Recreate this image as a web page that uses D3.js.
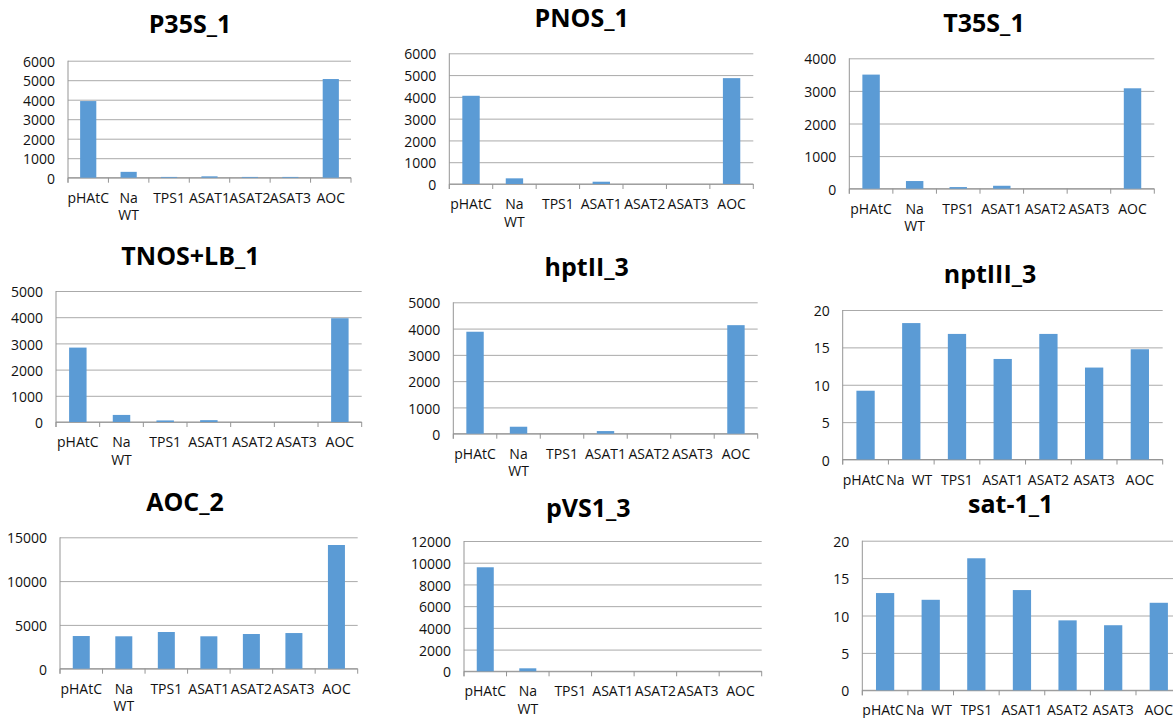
<!DOCTYPE html>
<html>
<head>
<meta charset="utf-8">
<script src="https://cdn.jsdelivr.net/npm/d3@7"></script>
<style>
  html, body { margin: 0; padding: 0; background: #fff; }
  svg { display: block; }
  text { font-family: "Open Sans", "Liberation Sans", sans-serif; }
</style>
</head>
<body>
<svg id="chart" width="1173" height="718"></svg>
<script>
// ---- data ----
const categories = ["pHAtC", "Na WT", "TPS1", "ASAT1", "ASAT2", "ASAT3", "AOC"];
const titles = ["P35S_1", "PNOS_1", "T35S_1", "TNOS+LB_1", "hptII_3", "nptIII_3", "AOC_2", "pVS1_3", "sat-1_1"];
const p35s   = [3930, 300, 40, 70, 40, 40, 5060];
const pnos   = [4050, 260, 0, 105, 0, 0, 4860];
const t35s   = [3500, 235, 50, 90, 0, 0, 3080];
const tnosLb = [2840, 270, 60, 70, 0, 0, 3960];
const hptII  = [3880, 265, 0, 100, 0, 0, 4130];
const nptIII = [9.2, 18.25, 16.8, 13.45, 16.8, 12.3, 14.75];
const aoc2   = [3730, 3700, 4190, 3700, 3960, 4070, 14120];
const pVS1   = [9580, 275, 0, 0, 0, 0, 0];
const sat1   = [13.0, 12.1, 17.65, 13.4, 9.35, 8.7, 11.7];
const seriesList = [p35s, pnos, t35s, tnosLb, hptII, nptIII, aoc2, pVS1, sat1];
const yMaxes  = [6000, 6000, 4000, 5000, 5000, 20, 15000, 12000, 20];
const ySteps  = [1000, 1000, 1000, 1000, 1000, 5, 5000, 2000, 5];

// ---- layout (pixel boxes of each small chart) ----
const layout = [
  {x0: 68,    x1: 351,    yTop: 60.7,  y0: 177.7, tx: 190,   ty: 33.3,  single: false},
  {x0: 449.3, x1: 753.3,  yTop: 53.3,  y0: 184,   tx: 581.7, ty: 27,    single: false},
  {x0: 849.3, x1: 1154.3, yTop: 58.3,  y0: 188.7, tx: 984,   ty: 32.3,  single: false},
  {x0: 56,    x1: 361.7,  yTop: 291,   y0: 422,   tx: 190.5, ty: 265,   single: false},
  {x0: 453.3, x1: 757.7,  yTop: 302.3, y0: 433.7, tx: 586.7, ty: 275.7, single: false},
  {x0: 842.7, x1: 1162.7, yTop: 310,   y0: 459.5, tx: 990,   ty: 283.3, single: true},
  {x0: 60,    x1: 357.7,  yTop: 537.3, y0: 668.7, tx: 185,   ty: 510.7, single: false},
  {x0: 464,   x1: 761.7,  yTop: 541,   y0: 671.3, tx: 588.3, ty: 516.7, single: false},
  {x0: 862.3, x1: 1181.6, yTop: 540.7, y0: 690.3, tx: 1010.7,ty: 513.3, single: true}
];

const BAR = "#5B9BD5";
const GRID = "#aaaaaa";
const AXIS = "#959595";
const TXT = "#111111";
const FS = 14;

const svg = d3.select("#chart");

seriesList.forEach((vals, i) => {
  const L = layout[i];
  const g = svg.append("g");
  const x = d3.scaleBand().domain(categories).range([L.x0, L.x1]).padding(0);
  const y = d3.scaleLinear().domain([0, yMaxes[i]]).range([L.y0, L.yTop]);
  const ticks = d3.range(0, yMaxes[i] + ySteps[i] / 2, ySteps[i]);

  // gridlines + y labels via axis
  const yAxis = d3.axisLeft(y)
    .tickValues(ticks)
    .tickSize(-(L.x1 - L.x0))
    .tickPadding(13)
    .tickFormat(d3.format("d"));
  const ya = g.append("g")
    .attr("transform", `translate(${L.x0},0)`)
    .call(yAxis);
  ya.select(".domain").remove();
  ya.selectAll(".tick line").attr("stroke", GRID).attr("stroke-width", 1);
  ya.selectAll(".tick text")
    .attr("fill", TXT)
    .style("font-size", FS + "px")
    .attr("dy", "0.4em");

  // y axis vertical line (extends down like a tick)
  g.append("line")
    .attr("x1", L.x0).attr("x2", L.x0)
    .attr("y1", y(yMaxes[i])).attr("y2", y(0) + 5)
    .attr("stroke", AXIS);
  // x axis baseline
  g.append("line")
    .attr("x1", L.x0).attr("x2", L.x1)
    .attr("y1", y(0)).attr("y2", y(0))
    .attr("stroke", AXIS);
  // category boundary tick marks
  const bounds = categories.map(c => x(c)).concat([L.x1]);
  g.selectAll(".xtick").data(bounds).enter().append("line")
    .attr("x1", d => d).attr("x2", d => d)
    .attr("y1", y(0)).attr("y2", y(0) + 5)
    .attr("stroke", AXIS);

  // bars
  const bw = x.bandwidth();
  g.selectAll(".bar").data(vals).enter().append("rect")
    .attr("x", (d, k) => x(categories[k]) + bw * 0.3)
    .attr("width", bw * 0.4)
    .attr("y", d => y(d))
    .attr("height", d => y(0) - y(d))
    .attr("fill", BAR);

  // x labels
  const labelY = y(0) + 25;
  if (!L.single) {
    categories.forEach(c => {
      const t = g.append("text")
        .attr("x", x(c) + bw / 2)
        .attr("y", labelY)
        .attr("text-anchor", "middle")
        .attr("fill", TXT)
        .style("font-size", FS + "px");
      const parts = c.split(" ");
      parts.forEach((p, k) => {
        t.append("tspan")
          .attr("x", x(c) + bw / 2)
          .attr("dy", k === 0 ? 0 : 17.7)
          .text(p);
      });
    });
  } else {
    let prevEnd = null;
    categories.forEach((c, k) => {
      const parts = c.split(" ");
      if (parts.length > 1 && prevEnd !== null) {
        const t = g.append("text")
          .attr("x", prevEnd + 2)
          .attr("y", labelY)
          .attr("text-anchor", "start")
          .attr("fill", TXT)
          .style("font-size", FS + "px");
        t.append("tspan").text(parts[0]);
        t.append("tspan").attr("dx", 7).text(parts.slice(1).join(" "));
      } else {
        const cx = x(c) + bw / 2 - (k === 0 ? 2 : 0);
        const t = g.append("text")
          .attr("x", cx)
          .attr("y", labelY)
          .attr("text-anchor", "middle")
          .attr("fill", TXT)
          .style("font-size", FS + "px")
          .text(c);
        const len = t.node().getComputedTextLength();
        prevEnd = cx + len / 2;
      }
    });
  }

  // title
  svg.append("text")
    .attr("x", L.tx)
    .attr("y", L.ty)
    .attr("text-anchor", "middle")
    .attr("fill", "#000")
    .style("font-size", "25px")
    .style("font-weight", "bold")
    .text(titles[i]);
});
</script>
</body>
</html>
